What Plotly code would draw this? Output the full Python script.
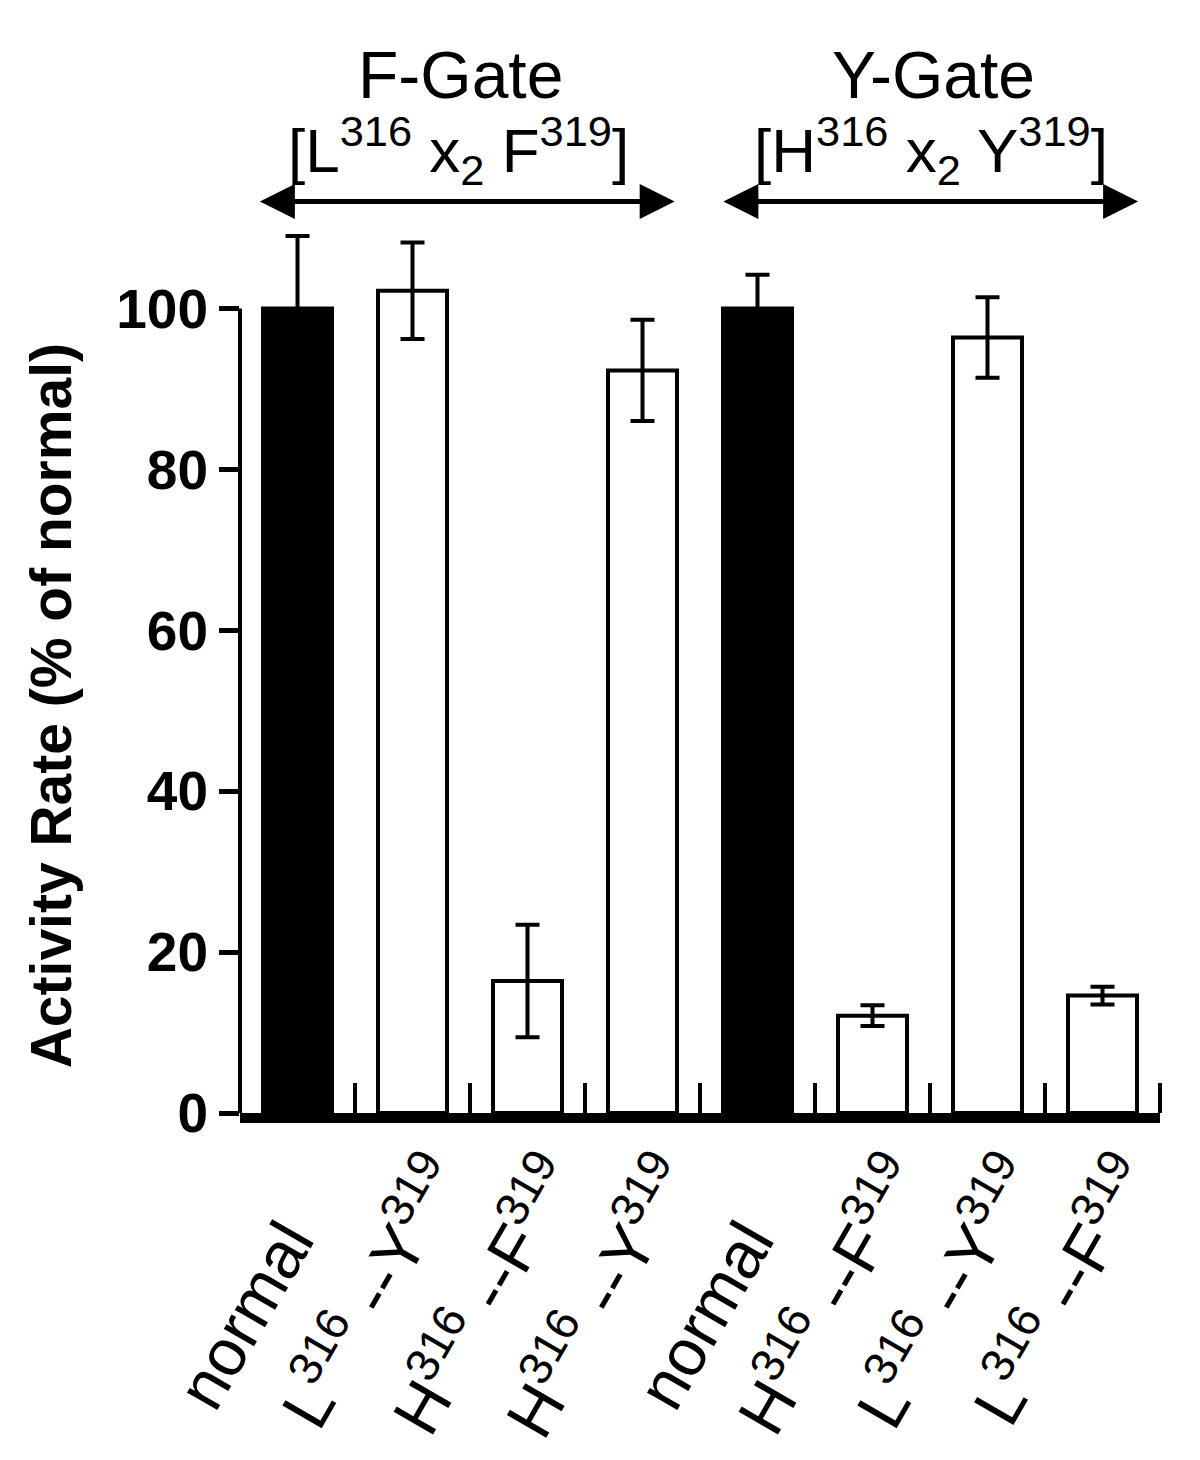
import plotly.graph_objects as go

# bar labels (x axis), values and errors
labels = [
    'normal',
    'L<sup>316</sup> --Y<sup>319</sup>',
    'H<sup>316</sup> --F<sup>319</sup>',
    'H<sup>316</sup> --Y<sup>319</sup>',
    'normal',
    'H<sup>316</sup> --F<sup>319</sup>',
    'L<sup>316</sup> --Y<sup>319</sup>',
    'L<sup>316</sup> --F<sup>319</sup>',
]
activity = [100, 102.2, 16.4, 92.3, 100, 12.1, 96.4, 14.6]
error = [9, 6, 7, 6.3, 4.2, 1.3, 5, 1.1]
fills = ['black', 'white', 'white', 'white', 'black', 'white', 'white', 'white']

y_ticks = [0, 20, 40, 60, 80, 100]

FONT = 'Liberation Sans, Arial, Helvetica, sans-serif'

x_pos = list(range(len(labels)))
# the short labels sit lower in the original (start aligned), pad their end
tick_text = [t + '&nbsp;' * 4 if t == 'normal' else t for t in labels]

fig = go.Figure()
fig.add_trace(go.Bar(
    x=x_pos,
    y=activity,
    width=0.6,
    marker=dict(color=fills, line=dict(color='black', width=4)),
    error_y=dict(type='data', array=error, visible=True,
                 color='black', thickness=4, width=12),
    showlegend=False,
))

# y axis line only spans 0..100
fig.add_shape(type='line', xref='paper', yref='y', x0=0, x1=0, y0=0, y1=100,
              line=dict(color='black', width=4))

# group headers with double arrows
groups = [
    dict(name='F-Gate', motif='[L<sup>316</sup> x<sub>2</sub> F<sup>319</sup>]',
         xc=1.42, x0=-0.34, x1=3.28),
    dict(name='Y-Gate', motif='[H<sup>316</sup> x<sub>2</sub> Y<sup>319</sup>]',
         xc=5.53, x0=3.69, x1=7.31),
]
for g in groups:
    fig.add_annotation(x=g['xc'], y=1.173, xref='x', yref='y domain', text=g['name'],
                       showarrow=False, xanchor='center', yanchor='middle',
                       font=dict(size=66, family=FONT, color='black'))
    fig.add_annotation(x=g['xc'] - 0.02, y=1.088, xref='x', yref='y domain', text=g['motif'],
                       showarrow=False, xanchor='center', yanchor='middle',
                       font=dict(size=62, family=FONT, color='black'))
    fig.add_annotation(x=g['x1'], y=1.03, ax=g['x0'], ay=1.03,
                       xref='x', yref='y domain', axref='x', ayref='y domain',
                       text='', showarrow=True, arrowhead=2, startarrowhead=2,
                       arrowside='end+start', arrowwidth=5, arrowsize=1.4,
                       startarrowsize=1.4, arrowcolor='black')

fig.add_annotation(x=-0.205, y=0.46, xref='paper', yref='y domain',
                   text='Activity Rate (% of normal)', textangle=-90, showarrow=False,
                   xanchor='center', yanchor='middle',
                   font=dict(size=57, family=FONT, color='black', weight='bold'))

fig.update_layout(
    width=1200,
    height=1460,
    margin=dict(l=232, r=48, t=220, b=355),
    plot_bgcolor='white',
    paper_bgcolor='white',
    xaxis=dict(
        range=[-0.5, 7.5],
        tickvals=[i + 0.23 for i in x_pos],
        ticktext=tick_text,
        tickangle=-60,
        ticks='',
        showline=True,
        linewidth=10,
        linecolor='black',
        showgrid=False,
        zeroline=False,
        automargin=False,
        tickfont=dict(size=66, family=FONT, color='black'),
        ticklabelstandoff=-10,
        minor=dict(tickvals=[i + 0.5 for i in x_pos], ticks='inside',
                   ticklen=30, tickwidth=4, tickcolor='black', showgrid=False),
    ),
    yaxis=dict(
        range=[0, 110],
        tickvals=y_ticks,
        ticks='outside',
        ticklen=20,
        tickwidth=5,
        tickcolor='black',
        showline=False,
        showgrid=False,
        zeroline=False,
        automargin=False,
        ticklabelstandoff=0,
        tickfont=dict(size=55, family=FONT, color='black', weight='bold'),
    ),
)

fig.write_html('out.html')
